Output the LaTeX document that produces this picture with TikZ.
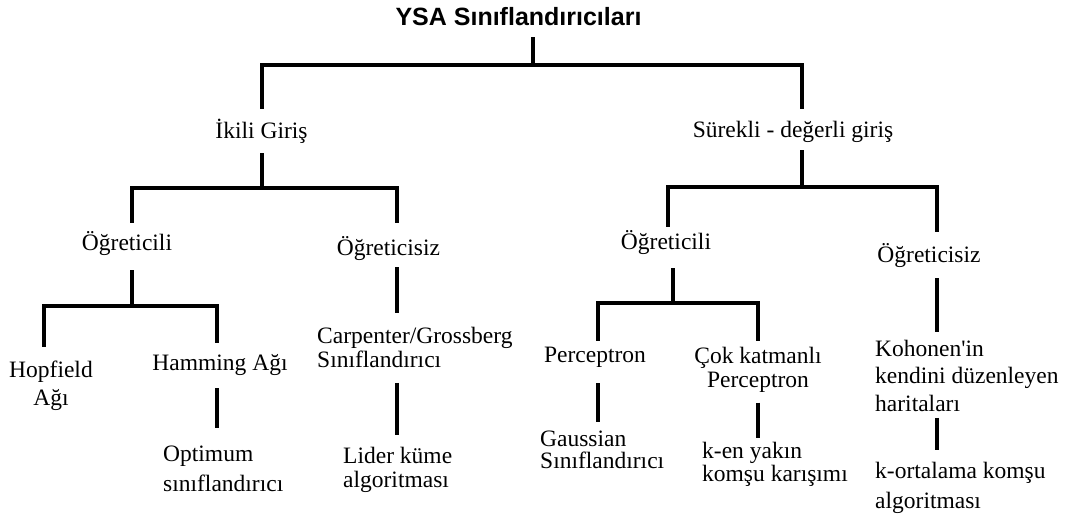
\documentclass[tikz,border=0pt]{standalone}
\usepackage{fontspec}
\setmainfont{Liberation Serif}
\newfontfamily\titlefont{Liberation Sans}

\begin{document}
\begin{tikzpicture}[x=1pt,y=1pt,
    lbl/.style={inner sep=0pt, anchor=base, text height=16pt, text depth=5pt, font=\fontsize{23.5}{24}\selectfont},
    blk/.style={inner sep=0pt, align=left, font=\fontsize{23.5}{24}\selectfont},
    link/.style={line width=4pt}]
    \useasboundingbox (0,0) rectangle (1076,519);

    % labels
    \node[inner sep=0pt, anchor=base, text height=18pt, text depth=0pt, font=\titlefont\bfseries\fontsize{25}{27}\selectfont] (ysa) at (518.5,493) {YSA Sınıflandırıcıları};
    \node[lbl] (ikili) at (261.5,380) {İkili Giriş};
    \node[lbl] (surekli) at (793,381) {Sürekli - değerli giriş};
    \node[lbl] (ogr1) at (127,268) {Öğreticili};
    \node[lbl] (ogs1) at (388.5,263) {Öğreticisiz};
    \node[lbl] (ogr2) at (666,269) {Öğreticili};
    \node[lbl] (ogs2) at (929,256) {Öğreticisiz};
    \node[lbl] (hamming) at (220,148) {Hamming Ağı};
    \node[lbl] (perc) at (595,156) {Perceptron};
    \node[blk, align=center, anchor=north] (hopfield) at (51,158) {Hopfield\\[4pt]Ağı};
    \node[blk, anchor=north west] (optimum) at (163,73) {Optimum\\[6pt]sınıflandırıcı};
    \node[blk, anchor=north west] (carpenter) at (317,192) {Carpenter/Grossberg\\Sınıflandırıcı};
    \node[blk, anchor=north west] (lider) at (343,72) {Lider küme\\algoritması};
    \node[blk, anchor=north west] (gaussian) at (540,88) {Gaussian\\[-2pt]Sınıflandırıcı};
    \node[blk, align=center, anchor=north] (cok) at (758,172) {Çok katmanlı\\Perceptron};
    \node[blk, anchor=north west] (kenyakin) at (702,77) {k-en yakın\\[-1pt]komşu karışımı};
    \node[blk, anchor=north west] (kohonen) at (875,179) {Kohonen\textquotesingle in\\[3pt]kendini düzenleyen\\[4pt]haritaları};
    \node[blk, anchor=north west] (kortalama) at (875,57) {k-ortalama komşu\\[6pt]algoritması};

    % junctions and columns
    \coordinate (j0) at (533,454);
    \coordinate (j1) at (262,331);
    \coordinate (j2) at (802,332);
    \coordinate (j3) at (132,213);
    \coordinate (j4) at (673,216);
    \coordinate (o2col) at (668,0);
    \coordinate (hopcol) at (44,0);
    \coordinate (hamcol) at (217,0);
    \coordinate (cgcol) at (397,0);
    \coordinate (pcol) at (598,0);
    \coordinate (ccol) at (758,0);
    \coordinate (kcol) at (937,0);

    % tree lines
    \draw[link, shorten <=11pt] (ysa.south -| j0) -- (j0);
    \draw[link, shorten <=14pt, shorten >=13pt] (ikili.north -| j1) |- (j0) -| (surekli.north -| j2);
    \draw[link, shorten <=9pt] (ikili.south -| j1) -- (j1);
    \draw[link, shorten <=7pt] (surekli.south -| j2) -- (j2);
    \draw[link, shorten <=12pt, shorten >=17pt] (ogr1.north -| j3) |- (j1) -| (ogs1.north -| cgcol);
    \draw[link, shorten <=7pt, shorten >=15pt] (ogr2.north -| o2col) |- (j2) -| (ogs2.north -| kcol);
    \draw[link, shorten <=14pt] (ogr1.south -| j3) -- (j3);
    \draw[link, shorten <=13pt] (ogr2.south -| j4) -- (j4);
    \draw[link, shorten <=14pt, shorten >=12pt] (hopfield.north -| hopcol) |- (j3) -| (hamming.north -| hamcol);
    \draw[link, shorten <=6pt, shorten >=6pt] (perc.north -| pcol) |- (j4) -| (cok.north -| ccol);
    \draw[link, shorten <=12pt, shorten >=18pt] (hamming.south -| hamcol) -- (optimum.north -| hamcol);
    \draw[link, shorten <=6pt, shorten >=14pt] (ogs1.south -| cgcol) -- (carpenter.north -| cgcol);
    \draw[link, shorten <=15pt, shorten >=12pt] (carpenter.south -| cgcol) -- (lider.north -| cgcol);
    \draw[link, shorten <=15pt, shorten >=9pt] (perc.south -| pcol) -- (gaussian.north -| pcol);
    \draw[link, shorten <=10pt, shorten >=4pt] (cok.south -| ccol) -- (kenyakin.north -| ccol);
    \draw[link, shorten <=10pt, shorten >=8pt] (ogs2.south -| kcol) -- (kohonen.north -| kcol);
    \draw[link, shorten <=6pt, shorten >=12pt] (kohonen.south -| kcol) -- (kortalama.north -| kcol);
\end{tikzpicture}
\end{document}
